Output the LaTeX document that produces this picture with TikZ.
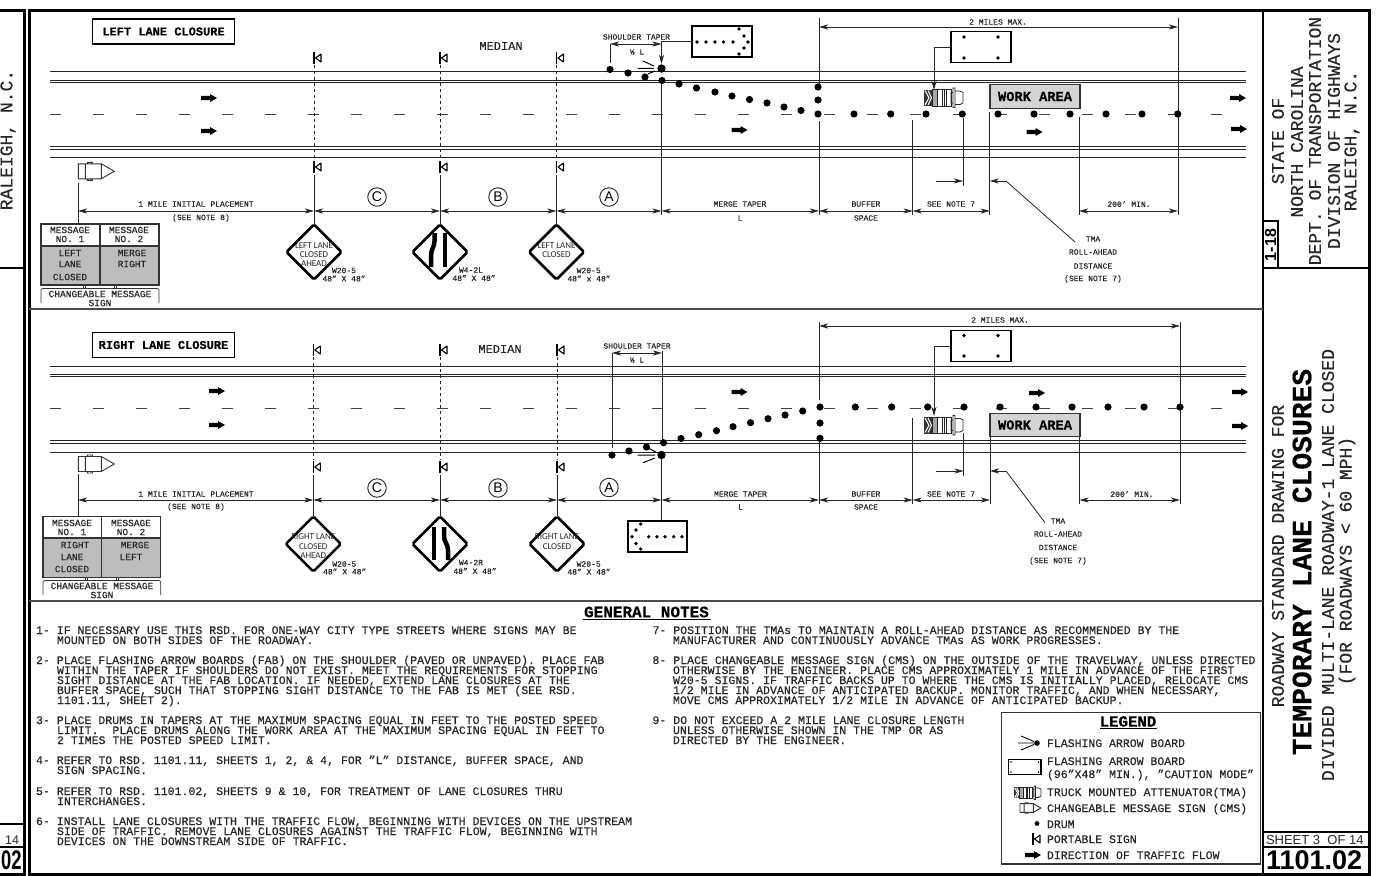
\documentclass[tikz,border=0pt]{standalone}
\usepackage{fontspec}
\setmainfont{Liberation Mono}[FakeBold=0.35]
\newfontfamily\hsans{Liberation Sans}
\newfontfamily\nsans{Carlito}
\usetikzlibrary{arrows.meta,shapes.geometric}
\AtBeginDocument{\frenchspacing}
\definecolor{ink}{HTML}{262626}
\definecolor{panel}{HTML}{BDBDBD}
\definecolor{wa}{HTML}{D4D4D4}
\newcounter{tn}
\def\mylbl[#1](#2)#3{\stepcounter{tn}\node[tx,#1] (t\thetn) at (#2) {#3};}
\def\ntl(#1,#2)#3{\stepcounter{tn}\node[tx,anchor=base west,font=\fontsize{11.55}{12}\selectfont] (t\thetn) at (#1,#2+4) {#3};}
\tikzset{
  tx/.style={inner sep=0pt,outer sep=0pt,text=ink},
  small/.style={font=\fontsize{8}{8}\selectfont},
  msg/.style={font=\fontsize{9.5}{9.5}\selectfont},
  rot/.style={rotate=90,font=\fontsize{18}{18}\selectfont},
  leg/.style={anchor=base west,font=\fontsize{11.5}{12}\selectfont},
  signtxt/.style={font=\nsans\fontsize{9}{9}\selectfont},
  road/.style={line width=1pt,draw=black!85},
  lane/.style={line width=.8pt,draw=black!75},
  frame/.style={line width=3pt,draw=black},
  sep/.style={line width=1.2pt,draw=black!70},
  ext/.style={line width=.8pt,draw=ink},
  leader/.style={line width=.8pt,draw=ink,-{Stealth[length=9pt,width=5pt,inset=2.5pt]}},
  dim/.style={line width=.7pt,draw=ink,{Stealth[length=9pt,width=5pt,inset=2.5pt]}-{Stealth[length=9pt,width=5pt,inset=2.5pt]}},
  sdash/.style={line width=.7pt,draw=ink,dash pattern=on 3pt off 3pt},
  signd/.style={diamond,draw=black,line width=2.5pt,aspect=1,minimum width=55pt,minimum height=55pt,inner sep=0pt,outer sep=0pt,rounded corners=1.5pt},
  board/.style={draw=black,line width=1.4pt,fill=white},
  titlebox/.style={draw=black,line width=1.3pt,inner sep=0pt,outer sep=0pt,minimum width=142pt,minimum height=25pt,font=\bfseries\fontsize{12}{12}\selectfont},
  wabox/.style={draw=black!80,fill=wa,line width=1.2pt,inner sep=0pt,outer sep=0pt,minimum width=90pt,minimum height=23.5pt,font=\bfseries\fontsize{13.7}{14}\selectfont},
  letter/.style={circle,draw=ink,line width=.9pt,inner sep=0pt,outer sep=0pt,minimum size=18.5pt,font=\hsans\fontsize{14}{14}\selectfont},
  flowarrow/.pic={\fill[black] (-8,-2.2) -- (1,-2.2) -- (1,-4) -- (8,0) -- (1,4) -- (1,2.2) -- (-8,2.2) -- cycle;},
  psign/.pic={\draw[black,line width=1.3pt] (0,-6) -- (0,6);\draw[black,line width=1.1pt,line join=round] (1.5,0) -- (7,-4) -- (7,4) -- cycle;},
  cmssym/.pic={\draw[black!80,line width=.9pt,fill=white] (0,-7.5) rectangle (7,7.5) (7,-7.5) rectangle (23,7.5) (23,-7.5) -- (36,0) -- (23,7.5) (9,-9) rectangle (14,-7.5) (9,7.5) rectangle (14,9);},
  tmasym/.pic={
    \fill[black!80] (0,0) rectangle (8,16.5);
    \draw[white,line width=1pt] (1,1) -- (5,8.25) -- (1,15.5) (4,1) -- (7.5,8.25) -- (4,15.5);
    \fill[black!35] (8,0) rectangle (13,16.5);
    \draw[black!85,line width=.8pt] (8,0) rectangle (27,16.5) (13,0) -- (13,16.5) (18,0) -- (18,16.5) (20,0) -- (20,16.5) (22,0) -- (22,16.5);
    \draw[black!85,line width=.8pt] (27,3) rectangle (29,13.5) (29,-1.5) rectangle (31,18) (31,1.5) -- (36,1.5) -- (39,3) -- (39,13.5) -- (36,15) -- (31,15);},
}
\begin{document}
\begin{tikzpicture}[x=1pt,y=-1pt,line cap=butt]
\useasboundingbox (0,0) rectangle (1385,876);
\fill[white] (0,0) rectangle (1385,876);
%---------- frames
\coordinate (fTL) at (29,10); \coordinate (fBR) at (1369,874);
\draw[frame] (fTL) rectangle (fBR);
\draw[frame] (0,10) -- (24,10) -- (24,874) -- (0,874);
\draw[line width=1.5pt] (0,268) -- (24,268) (0,824) -- (24,824) (0,847) -- (24,847);
\draw[line width=2pt] (1263,10) -- (1263,874);
\draw[line width=1.5pt] (1263,268) -- (1369,268) (1263,832) -- (1369,832);
\draw[line width=2pt] (1263,847) -- (1369,847);
\draw[sep] (29,309) -- (1263,309) (29,601) -- (1263,601);
\draw[line width=1.2pt] (1263,221) rectangle (1278,268);
%---------- side text
\mylbl[rot](8,140){RALEIGH, N.C.}
\mylbl[font=\hsans\fontsize{12.5}{13}\selectfont,anchor=east](19,840){14}
\mylbl[font=\hsans\bfseries\fontsize{27}{27}\selectfont,anchor=east,text=black,xscale=.68](21.5,860){02}
\mylbl[rot](1278,141){STATE OF}
\mylbl[rot](1297,142){NORTH CAROLINA}
\mylbl[rot](1315,141){DEPT. OF TRANSPORTATION}
\mylbl[rot](1334,141){DIVISION OF HIGHWAYS}
\mylbl[rot](1352,141){RALEIGH, N.C.}
\mylbl[rotate=90,font=\hsans\bfseries\fontsize{16}{16}\selectfont,text=black](1270.5,245){1-18}
\mylbl[rot](1278,556){ROADWAY STANDARD DRAWING FOR}
\mylbl[rotate=90,font=\bfseries\fontsize{28}{28}\selectfont,text=black](1302,562){TEMPORARY LANE CLOSURES}
\mylbl[rot](1328,565){DIVIDED MULTI-LANE ROADWAY-1 LANE CLOSED}
\mylbl[rot](1347,561){(FOR ROADWAYS < 60 MPH)}
\mylbl[font=\hsans\fontsize{13}{13}\selectfont,anchor=west](1266,840){SHEET 3\ \ OF 14}
\mylbl[font=\hsans\bfseries\fontsize{27}{27}\selectfont,anchor=west,text=black](1266,860){1101.02}
%---------- roads
\foreach \y in {71,80,82.5,146,149,157,366,374,376.7,440,443,452.7}
  \draw[road] (50,\y) -- (1245.5,\y);
\foreach \k in {0,...,27} {
  \draw[lane] ({49.5+43*\k},114) -- ++(11,0);
  \draw[lane] ({49.5+43*\k},408) -- ++(11,0);
}
\foreach \x/\y in {209/98,209/131,739.5/130,1034.5/132,1238/98,1239/129,217/391,217/425,739.5/392,1037/393,1240/392,1240/426}
  \pic at (\x,\y) {flowarrow};
%---------- TOP DIAGRAM
\node[titlebox] (tt1) at (163.5,31.5) {LEFT LANE CLOSURE};
\mylbl[font=\fontsize{12}{12}\selectfont](501,46){MEDIAN}
\foreach \x in {314,440,556.5} {
  \pic at (\x,58) {psign};
  \pic at (\x,167) {psign};
  \draw[sdash] (\x,65) -- (\x,160);
}
\pic at (78.3,171.3) {cmssym};
\node[signd] (s1) at (314,252) {};
\node[signd] (s2) at (440,252) {};
\node[signd] (s3) at (556.5,252) {};
\coordinate (p1) at (314,175); \coordinate (p2) at (440,175); \coordinate (p3) at (556.5,175);
\draw[ext] (p1) -- (s1.north); \draw[ext] (p2) -- (s2.north); \draw[ext] (p3) -- (s3.north);
\mylbl[signtxt](314,246){LEFT LANE}
\mylbl[signtxt](314,255){CLOSED}
\mylbl[signtxt](314,264){AHEAD}
\mylbl[signtxt](556.5,246){LEFT LANE}
\mylbl[signtxt](556.5,255){CLOSED}
\mylbl[small](344,270.5){W20-5}
\mylbl[small](344,278.5){48" X 48"}
\mylbl[small](471,270){W4-2L}
\mylbl[small](474,278){48" X 48"}
\mylbl[small](588.7,270.5){W20-5}
\mylbl[small](589,278.5){48" x 48"}
\draw[black,line width=4.5pt] (434.5,233) -- (434.5,241) .. controls (434.5,247) and (431,249) .. (431,256) -- (431,267);
\draw[black,line width=4.5pt] (445,233) -- (445,267);
% message box
\fill[panel] (41,246) rectangle (159,285);
\node[draw=black!80,line width=1.2pt,minimum width=118pt,minimum height=61pt,inner sep=0pt,outer sep=0pt] (m1) at (100,254.5) {};
\draw[line width=1.1pt,black!80] (100,224) -- (100,285) (41,246) -- (159,246);
\coordinate (cm1) at (78,183);
\draw[ext] (cm1) -- (78,224);
\mylbl[msg](70,230){MESSAGE}\mylbl[msg](70,239){NO. 1}
\mylbl[msg](129,230){MESSAGE}\mylbl[msg](129,239){NO. 2}
\mylbl[msg](70,253){LEFT}\mylbl[msg](70,264){LANE}\mylbl[msg](70,277){CLOSED}
\mylbl[msg](132,253){MERGE}\mylbl[msg](132,264){RIGHT}
\draw[line width=.7pt,black!80,rounded corners=2pt] (41,303) -- (41,288.5) -- (159,288.5) -- (159,303);
\draw[line width=.7pt,black!80] (83,285) -- (83,288.5) (85,285) -- (85,288.5) (114,285) -- (114,288.5) (116,285) -- (116,288.5);
\mylbl[msg](100,294){CHANGEABLE MESSAGE}\mylbl[msg](100,303){SIGN}
% dims
\coordinate (u0) at (78,211); \coordinate (u1) at (314,211); \coordinate (u2) at (440,211);
\coordinate (u3) at (556.5,211); \coordinate (u4) at (661.5,211); \coordinate (u5) at (819,211);
\coordinate (u6) at (912.7,211); \coordinate (u7) at (989.7,211); \coordinate (u8) at (1079,211); \coordinate (u9) at (1178,211);
\foreach \a/\b in {u0/u1,u1/u2,u2/u3,u3/u4,u4/u5,u5/u6,u6/u7,u8/u9} \draw[dim] (\a) -- (\b);
\foreach \x/\a/\b in {661.5/81/215,819/18/85,819/121/215,912.7/120/215,963/118/186,989.7/112/215,1079/117/215,1178/18/215}
  \draw[ext] (\x,\a) -- (\x,\b);
\coordinate (mm1) at (819,27); \coordinate (mm2) at (1178,27);
\draw[dim] (mm1) -- (mm2);
\mylbl[small](998,22){2 MILES MAX.}
\node[letter] (c1) at (377,197) {C};
\node[letter] (b1) at (498,197) {B};
\node[letter] (a1) at (609,197) {A};
\mylbl[small](196,204){1 MILE INITIAL PLACEMENT}
\mylbl[small](201,218){(SEE NOTE 8)}
\mylbl[small](740,204){MERGE TAPER}\mylbl[small](740,218){L}
\mylbl[small](866,204){BUFFER}\mylbl[small](866,218){SPACE}
\mylbl[small](951,204){SEE NOTE 7}
\mylbl[small](1129,204){200' MIN.}
% TMA leader
\coordinate (r1) at (936,181); \coordinate (r2) at (963,181); \coordinate (r3) at (1006,181); \coordinate (r4) at (989.7,181); \coordinate (r5) at (1075,242);
\draw[leader] (r1) -- (r2);
\draw[leader] (r3) -- (r4);
\draw[ext] (r3) -- (r5);
\mylbl[small](1093,239){TMA}\mylbl[small](1093,252){ROLL-AHEAD}\mylbl[small](1093,266){DISTANCE}\mylbl[small](1093,279){(SEE NOTE 7)}
% drums
\foreach \x/\y in {610/69.5,628/73,645/77,662/80.5,679/84,696.5/88,715/92,732/96,749.5/99.5,767/103,784/107,801/110.5,818/87,818/100,818/114,854/114,890.7/114,926/114,962.3/114,998/114,1034/114,1070/114,1106/114,1142/114,1177.7/114}
  \fill[black] (\x,\y) circle[radius=3.6pt];
\fill[black] (661.5,68.5) circle[radius=4.2pt];
\draw[line width=1pt,black] (637.7,68.3) -- (654,68.3) (643,61) -- (654,66) (648,74) -- (655,71);
% boards
\node[board,minimum width=60pt,minimum height=31pt,inner sep=0pt,outer sep=0pt] (fb1) at (722,41.5) {};
\foreach \x/\y in {697/42,706/42,715/42,723.5/42,733/42,739/29,744/36,748/42,744/48,739/54}
  \fill[black] (\x,\y) circle[radius=1.8pt];
\coordinate (ft1) at (661.5,64);
\draw[leader] (fb1.west) -| (ft1);
\coordinate (st1) at (610,44); \coordinate (st2) at (661.5,44);
\draw[dim] (st1) -- (st2);
\draw[ext] (610,44) -- (610,63);
\mylbl[small](636.5,37){SHOULDER TAPER}
\mylbl[small](637,52){⅓ L}
\node[board,minimum width=60pt,minimum height=30.5pt,inner sep=0pt,outer sep=0pt] (wb1) at (981,47) {};
\foreach \x/\y in {964/37,998/37,964/58,998/58} \fill[black] (\x,\y) circle[radius=1.8pt];
\coordinate (tm1) at (934,90);
\draw[leader] (wb1.west) -| (tm1);
\pic at (924,89.5) {tmasym};
\node[wabox] (w1) at (1035,96.5) {WORK AREA};
%---------- LOWER DIAGRAM
\node[titlebox] (tt2) at (163.5,345) {RIGHT LANE CLOSURE};
\mylbl[font=\fontsize{12}{12}\selectfont](500,349){MEDIAN}
\foreach \x in {313.3,440,557} {
  \pic at (\x,350) {psign};
  \pic at (\x,467) {psign};
  \draw[sdash] (\x,357) -- (\x,460);
}
\pic at (78.3,464) {cmssym};
\node[signd] (s4) at (313.3,544) {};
\node[signd] (s5) at (440,544) {};
\node[signd] (s6) at (557,544) {};
\coordinate (p4) at (313.3,475); \coordinate (p5) at (440,475); \coordinate (p6) at (557,475);
\draw[ext] (p4) -- (s4.north); \draw[ext] (p5) -- (s5.north); \draw[ext] (p6) -- (s6.north);
\mylbl[signtxt](313.3,537){RIGHT LANE}
\mylbl[signtxt](313.3,546.6){CLOSED}
\mylbl[signtxt](313.3,555.6){AHEAD}
\mylbl[signtxt](557,537){RIGHT LANE}
\mylbl[signtxt](557,546.6){CLOSED}
\mylbl[small](344.3,564){W20-5}
\mylbl[small](344.7,571.5){48" X 48"}
\mylbl[small](471,562.5){W4-2R}
\mylbl[small](475,571){48" X 48"}
\mylbl[small](588.7,564){W20-5}
\mylbl[small](589,571.7){48" X 48"}
\draw[black,line width=4.5pt] (434,527) -- (434,560);
\draw[black,line width=4.5pt] (444,527) -- (444,536) .. controls (444,542) and (448,544) .. (448,550) -- (448,560);
\fill[panel] (43,538) rectangle (160.7,577);
\node[draw=black!80,line width=1.2pt,minimum width=117.7pt,minimum height=60.5pt,inner sep=0pt,outer sep=0pt] (m2) at (101.85,547) {};
\draw[line width=1.1pt,black!80] (101.6,516.7) -- (101.6,577) (43,538) -- (160.7,538);
\coordinate (cm2) at (78,474);
\draw[ext] (cm2) -- (78,516.7);
\mylbl[msg](72,523){MESSAGE}\mylbl[msg](72,532){NO. 1}
\mylbl[msg](131,523){MESSAGE}\mylbl[msg](131,532){NO. 2}
\mylbl[msg](75,545){RIGHT}\mylbl[msg](72,557){LANE}\mylbl[msg](72,569){CLOSED}
\mylbl[msg](135,545){MERGE}\mylbl[msg](131,557){LEFT}
\draw[line width=.7pt,black!80,rounded corners=2pt] (43,595) -- (43,580.5) -- (160.7,580.5) -- (160.7,595);
\draw[line width=.7pt,black!80] (85,577) -- (85,580.5) (87,577) -- (87,580.5) (116,577) -- (116,580.5) (118,577) -- (118,580.5);
\mylbl[msg](102,586){CHANGEABLE MESSAGE}\mylbl[msg](102,595){SIGN}
\coordinate (v0) at (78,500); \coordinate (v1) at (313.3,500); \coordinate (v2) at (440,500);
\coordinate (v3) at (557,500); \coordinate (v4) at (661.5,500); \coordinate (v5) at (819,500);
\coordinate (v6) at (912.7,500); \coordinate (v7) at (990,500); \coordinate (v8) at (1079.5,500); \coordinate (v9) at (1180,500);
\foreach \a/\b in {v0/v1,v1/v2,v2/v3,v3/v4,v4/v5,v5/v6,v6/v7,v8/v9} \draw[dim] (\a) -- (\b);
\foreach \x/\a/\b in {612/353/448,662/351/442,819/322/400,819/442/504,912.7/418/504,963.7/433/476,990/437/504,1079.5/437/504,1180/322/504}
  \draw[ext] (\x,\a) -- (\x,\b);
\coordinate (mm3) at (819,326); \coordinate (mm4) at (1180,326);
\draw[dim] (mm3) -- (mm4);
\mylbl[small](1000,320){2 MILES MAX.}
\node[letter] (c2) at (377,488) {C};
\node[letter] (b2) at (498,488) {B};
\node[letter] (a2) at (609,487.5) {A};
\mylbl[small](196,494){1 MILE INITIAL PLACEMENT}
\mylbl[small](196,507){(SEE NOTE 8)}
\mylbl[small](740.5,494){MERGE TAPER}\mylbl[small](740.5,507){L}
\mylbl[small](866,494){BUFFER}\mylbl[small](866,507){SPACE}
\mylbl[small](951,494){SEE NOTE 7}
\mylbl[small](1132,494){200' MIN.}
\coordinate (r6) at (936,471); \coordinate (r7) at (963.7,471); \coordinate (r8) at (1006,471); \coordinate (r9) at (990,471); \coordinate (r10) at (1045,522.7);
\draw[leader] (r6) -- (r7);
\draw[leader] (r8) -- (r9);
\draw[ext] (r8) -- (r10);
\mylbl[small](1058,521){TMA}\mylbl[small](1058,534){ROLL-AHEAD}\mylbl[small](1058,547.5){DISTANCE}\mylbl[small](1058,561){(SEE NOTE 7)}
\foreach \x/\y in {612/455,629/451,646.5/447,663.5/442.7,681/438.5,698.7/434.7,716.5/430.7,733/426.7,750.5/422.7,768/418.7,785/415,802.7/411,820/407,820/423,820/438.3,855.3/407,891.7/407,927.7/407,964/407,1000/407,1036/407,1072/407,1108/407,1144/407,1180/407}
  \fill[black] (\x,\y) circle[radius=3.6pt];
\fill[black] (661.5,455) circle[radius=4.2pt];
\draw[line width=1pt,black] (637.7,455) -- (655,455) (648,448) -- (656,452) (643,462.7) -- (655,458);
\node[board,minimum width=59pt,minimum height=31pt,inner sep=0pt,outer sep=0pt] (fb2) at (657.5,536.5) {};
\foreach \x/\y in {682/536.7,673.7/536.7,665/536.7,657/536.7,648.7/536.7,640.7/524,636/530,632/536.7,636/543.5,640.7/549}
  \fill[black] (\x,\y) circle[radius=1.8pt];
\coordinate (fq) at (661.5,459);
\draw[ext] (fq) -- (fb2.north -| fq);
\coordinate (st3) at (612,353); \coordinate (st4) at (662,353);
\draw[dim] (st3) -- (st4);
\mylbl[small](637,346){SHOULDER TAPER}
\mylbl[small](637,360){⅓ L}
\node[board,minimum width=60pt,minimum height=31.5pt,inner sep=0pt,outer sep=0pt] (wb2) at (981,346) {};
\foreach \x/\y in {964/335.5,998/335.5,964/356,998/356} \fill[black] (\x,\y) circle[radius=1.8pt];
\coordinate (tm2) at (934,416);
\draw[leader] (wb2.west) -| (tm2);
\pic at (924,417) {tmasym};
\node[wabox] (w2) at (1035,425) {WORK AREA};
%---------- NOTES
\mylbl[font=\bfseries\fontsize{16}{16}\selectfont,text=black](646.5,612){GENERAL NOTES}
\draw[line width=1.2pt] (583,619.5) -- (710.5,619.5);
\ntl(36,630){1- IF NECESSARY USE THIS RSD. FOR ONE-WAY CITY TYPE STREETS WHERE SIGNS MAY BE}
\ntl(57,640){MOUNTED ON BOTH SIDES OF THE ROADWAY.}
\ntl(36,660){2- PLACE FLASHING ARROW BOARDS (FAB) ON THE SHOULDER (PAVED OR UNPAVED). PLACE FAB}
\ntl(57,670){WITHIN THE TAPER IF SHOULDERS DO NOT EXIST. MEET THE REQUIREMENTS FOR STOPPING}
\ntl(57,680){SIGHT DISTANCE AT THE FAB LOCATION. IF NEEDED, EXTEND LANE CLOSURES AT THE}
\ntl(57,690){BUFFER SPACE, SUCH THAT STOPPING SIGHT DISTANCE TO THE FAB IS MET (SEE RSD.}
\ntl(57,700){1101.11, SHEET 2).}
\ntl(36,720){3- PLACE DRUMS IN TAPERS AT THE MAXIMUM SPACING EQUAL IN FEET TO THE POSTED SPEED}
\ntl(57,730){LIMIT.\ \ PLACE DRUMS ALONG THE WORK AREA AT THE MAXIMUM SPACING EQUAL IN FEET TO}
\ntl(57,740){2 TIMES THE POSTED SPEED LIMIT.}
\ntl(36,760){4- REFER TO RSD. 1101.11, SHEETS 1, 2, \& 4, FOR "L" DISTANCE, BUFFER SPACE, AND}
\ntl(57,770){SIGN SPACING.}
\ntl(36,791){5- REFER TO RSD. 1101.02, SHEETS 9 \& 10, FOR TREATMENT OF LANE CLOSURES THRU}
\ntl(57,801){INTERCHANGES.}
\ntl(36,821){6- INSTALL LANE CLOSURES WITH THE TRAFFIC FLOW, BEGINNING WITH DEVICES ON THE UPSTREAM}
\ntl(57,831){SIDE OF TRAFFIC. REMOVE LANE CLOSURES AGAINST THE TRAFFIC FLOW, BEGINNING WITH}
\ntl(57,841){DEVICES ON THE DOWNSTREAM SIDE OF TRAFFIC.}
\ntl(652.5,630){7- POSITION THE TMAs TO MAINTAIN A ROLL-AHEAD DISTANCE AS RECOMMENDED BY THE}
\ntl(673,640){MANUFACTURER AND CONTINUOUSLY ADVANCE TMAs AS WORK PROGRESSES.}
\ntl(652.5,660){8- PLACE CHANGEABLE MESSAGE SIGN (CMS) ON THE OUTSIDE OF THE TRAVELWAY, UNLESS DIRECTED}
\ntl(673,670){OTHERWISE BY THE ENGINEER. PLACE CMS APPROXIMATELY 1 MILE IN ADVANCE OF THE FIRST}
\ntl(673,680){W20-5 SIGNS. IF TRAFFIC BACKS UP TO WHERE THE CMS IS INITIALLY PLACED, RELOCATE CMS}
\ntl(673,690){1/2 MILE IN ADVANCE OF ANTICIPATED BACKUP. MONITOR TRAFFIC, AND WHEN NECESSARY,}
\ntl(673,700){MOVE CMS APPROXIMATELY 1/2 MILE IN ADVANCE OF ANTICIPATED BACKUP.}
\ntl(652.5,720){9- DO NOT EXCEED A 2 MILE LANE CLOSURE LENGTH}
\ntl(673,730){UNLESS OTHERWISE SHOWN IN THE TMP OR AS}
\ntl(673,740){DIRECTED BY THE ENGINEER.}
%---------- LEGEND
\node[draw=black!80,line width=1.1pt,minimum width=259pt,minimum height=151.3pt,inner sep=0pt,outer sep=0pt] (lg) at (1131.2,788.3) {};
\mylbl[font=\bfseries\fontsize{15.7}{16}\selectfont,text=black](1128,721.5){LEGEND}
\draw[line width=1.2pt] (1099.5,728.5) -- (1157,728.5);
\mylbl[leg](1047,747){FLASHING ARROW BOARD}
\mylbl[leg](1047,765){FLASHING ARROW BOARD}
\mylbl[leg](1047,778){(96"X48" MIN.), "CAUTION MODE"}
\mylbl[leg](1047,796){TRUCK MOUNTED ATTENUATOR(TMA)}
\mylbl[leg](1047,812){CHANGEABLE MESSAGE SIGN (CMS)}
\mylbl[leg](1047,828){DRUM}
\mylbl[leg](1047,843){PORTABLE SIGN}
\mylbl[leg](1047,859){DIRECTION OF TRAFFIC FLOW}
\fill[black] (1037,743) circle[radius=2.8pt];
\draw[line width=.9pt,black] (1018,743) -- (1034,743) (1021,736) -- (1034,741.5) (1021,750) -- (1034,744.5);
\draw[line width=1.1pt,black] (1008.3,759.3) rectangle (1041,774.3);
\foreach \x/\y in {1011/762,1038.5/762,1011/772,1038.5/772} \fill[black] (\x,\y) circle[radius=.8pt];
\pic[scale=.69] at (1014,787) {tmasym};
\pic[scale=.58] at (1020,808) {cmssym};
\fill[black] (1037,823.5) circle[radius=2.4pt];
\pic at (1033,839) {psign};
\pic at (1033,855) {flowarrow};
\end{tikzpicture}
\end{document}
